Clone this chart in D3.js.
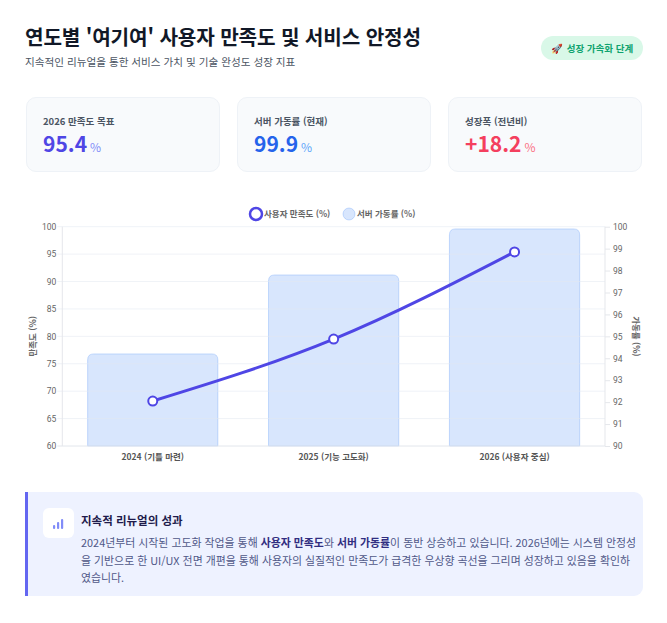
<!DOCTYPE html>
<html lang="ko">
<head>
<meta charset="utf-8">
<script src="https://cdn.jsdelivr.net/npm/d3@7"></script>
<style>
  * { box-sizing: border-box; margin: 0; padding: 0; }
  body { width: 667px; height: 623px; background: #fff; font-family: "Noto Sans CJK KR", "Noto Sans", sans-serif; position: relative; overflow: hidden; }
  .title { position: absolute; left: 25px; top: 22px; font-size: 20.2px; font-weight: 700; color: #111827; letter-spacing: -0.15px; }
  .subtitle { position: absolute; left: 25px; top: 54px; font-size: 10.6px; color: #4b5563; }
  .badge { position: absolute; left: 541px; top: 36px; width: 102px; height: 24px; border-radius: 12px; background: #d9f8e8; color: #10a36f; font-size: 9.5px; font-weight: 600; display: flex; align-items: center; justify-content: center; gap: 4px; }
  .card { position: absolute; top: 97px; width: 194px; height: 75px; background: #f8fafc; border: 1px solid #eef2f7; border-radius: 10px; }
  .card .lab { position: absolute; left: 16px; top: 16px; font-size: 9.5px; font-weight: 600; color: #4b5563; }
  .card .val { position: absolute; left: 16px; top: 30px; font-size: 21px; font-weight: 700; white-space: nowrap; }
  .card .val span { font-size: 12px; font-weight: 400; margin-left: 3px; }
  .note { position: absolute; left: 25px; top: 492px; width: 618px; height: 104px; background: #eef2ff; border-left: 3px solid #6366f1; border-radius: 0 9px 9px 0; }
  .note .icon { position: absolute; left: 15px; top: 16px; width: 31px; height: 30px; background: #fff; border-radius: 6px; }
  .note .head { position: absolute; left: 53px; top: 20px; font-size: 11.5px; font-weight: 700; color: #1e1b4b; }
  .note .body { position: absolute; left: 53px; top: 42px; width: 558px; font-size: 10.9px; line-height: 17.5px; color: #505888; }
  .note .body b { color: #312e81; font-weight: 700; }
  svg.chart { position: absolute; left: 0; top: 195px; }
</style>
</head>
<body>
<div class="title">연도별 '여기여' 사용자 만족도 및 서비스 안정성</div>
<div class="subtitle">지속적인 리뉴얼을 통한 서비스 가치 및 기술 완성도 성장 지표</div>
<div class="badge"><span>🚀</span><span>성장 가속화 단계</span></div>
<div id="cards"></div>
<svg class="chart" width="667" height="285"></svg>
<div class="note">
  <svg class="icon" width="31" height="30"></svg>
  <div class="head">지속적 리뉴얼의 성과</div>
  <div class="body">2024년부터 시작된 고도화 작업을 통해 <b>사용자 만족도</b>와 <b>서버 가동률</b>이 동반 상승하고 있습니다. 2026년에는 시스템 안정성을 기반으로 한 UI/UX 전면 개편을 통해 사용자의 실질적인 만족도가 급격한 우상향 곡선을 그리며 성장하고 있음을 확인하였습니다.</div>
</div>
<script>
// data
const years = ["2024 (기틀 마련)", "2025 (기능 고도화)", "2026 (사용자 중심)"];
const satisfaction = [68.2, 79.5, 95.4];   // 사용자 만족도 (%)
const uptime = [94.2, 97.8, 99.9];         // 서버 가동률 (%)
const leftTicks = [60, 65, 70, 75, 80, 85, 90, 95, 100];
const rightTicks = [90, 91, 92, 93, 94, 95, 96, 97, 98, 99, 100];
const kpiLabels = ["2026 만족도 목표", "서버 가동률 (현재)", "성장폭 (전년비)"];
const kpiValues = ["95.4", "99.9", "+18.2"];

const kpiColors = [["#4f46e5", "#818cf8"], ["#2563eb", "#60a5fa"], ["#f43f5e", "#fb7185"]];
const cardX = [26, 237, 448];

// KPI cards
const cards = d3.select("#cards").selectAll("div.card")
    .data(kpiLabels)
    .join("div")
    .attr("class", "card")
    .style("left", (d, i) => cardX[i] + "px");
cards.append("div").attr("class", "lab").text(d => d);
const vals = cards.append("div").attr("class", "val")
    .style("color", (d, i) => kpiColors[i][0])
    .text((d, i) => kpiValues[i]);
vals.append("span").style("color", (d, i) => kpiColors[i][1]).text("%");

// chart
const svg = d3.select("svg.chart");
const top0 = 195;
const plot = { left: 62.3, right: 605, top: 226.7 - top0, bottom: 446 - top0 };

const x = d3.scaleBand().domain(years).range([plot.left, plot.right]);
const yL = d3.scaleLinear().domain([60, 100]).range([plot.bottom, plot.top]);
const yR = d3.scaleLinear().domain([90, 100]).range([plot.bottom, plot.top]);

const barW = x.bandwidth() * 0.72;
const r = 6;

// bars (rounded top)
svg.append("g").selectAll("path")
    .data(uptime)
    .join("path")
    .attr("d", (d, i) => {
        const x0 = x(years[i]) + (x.bandwidth() - barW) / 2, x1 = x0 + barW;
        const y0 = yR(d), yb = plot.bottom;
        return `M${x0},${yb}V${y0 + r}Q${x0},${y0} ${x0 + r},${y0}H${x1 - r}Q${x1},${y0} ${x1},${y0 + r}V${yb}Z`;
    })
    .attr("fill", "rgba(59,130,246,0.2)")
    .attr("stroke", "rgba(59,130,246,0.25)")
    .attr("stroke-width", 1);

// grid
svg.append("g").selectAll("line")
    .data(leftTicks)
    .join("line")
    .attr("x1", plot.left - 5).attr("x2", plot.right)
    .attr("y1", d => yL(d)).attr("y2", d => yL(d))
    .attr("stroke", d => d === 60 ? "#e2e6ec" : "rgba(226,232,240,0.55)")
    .attr("stroke-width", 1);

// axis lines
svg.append("line").attr("x1", plot.left).attr("x2", plot.left).attr("y1", plot.top).attr("y2", plot.bottom).attr("stroke", "#e5e7eb");
svg.append("line").attr("x1", plot.right).attr("x2", plot.right).attr("y1", plot.top).attr("y2", plot.bottom).attr("stroke", "#e5e7eb");

// left axis
const axL = d3.axisLeft(yL).tickValues(leftTicks).tickSize(0).tickPadding(6);
svg.append("g").attr("transform", `translate(${plot.left},0)`).call(axL)
    .call(g => g.select(".domain").remove())
    .selectAll("text").attr("fill", "#666").style("font-size", "8.5px").style("font-family", "Roboto, 'Noto Sans', sans-serif");

// right axis
const axR = d3.axisRight(yR).tickValues(rightTicks).tickSize(5).tickPadding(3);
svg.append("g").attr("transform", `translate(${plot.right},0)`).call(axR)
    .call(g => g.select(".domain").remove())
    .call(g => g.selectAll("line").attr("stroke", "#e5e7eb"))
    .selectAll("text").attr("fill", "#666").style("font-size", "8.5px").style("font-family", "Roboto, 'Noto Sans', sans-serif");

// x axis
const axX = d3.axisBottom(x).tickSize(0).tickPadding(8);
svg.append("g").attr("transform", `translate(0,${plot.bottom})`).call(axX)
    .call(g => g.select(".domain").remove())
    .selectAll("text").attr("fill", "#555").style("font-size", "8.5px").style("font-weight", "700")
    .style("font-family", "'Noto Sans CJK KR', sans-serif");

// axis titles
svg.append("text").attr("transform", `translate(36,${(plot.top + plot.bottom) / 2}) rotate(-90)`)
    .attr("text-anchor", "middle").attr("fill", "#666").style("font-size", "8.5px").style("font-weight", "700")
    .text("만족도 (%)");
svg.append("text").attr("transform", `translate(633,${(plot.top + plot.bottom) / 2}) rotate(90)`)
    .attr("text-anchor", "middle").attr("fill", "#666").style("font-size", "8.5px").style("font-weight", "700")
    .text("가동률 (%)");

// line
const line = d3.line()
    .x((d, i) => x(years[i]) + x.bandwidth() / 2)
    .y(d => yL(d))
    .curve(d3.curveMonotoneX);
svg.append("path").datum(satisfaction)
    .attr("d", line).attr("fill", "none")
    .attr("stroke", "#4f46e5").attr("stroke-width", 3);
svg.append("g").selectAll("circle")
    .data(satisfaction)
    .join("circle")
    .attr("cx", (d, i) => x(years[i]) + x.bandwidth() / 2)
    .attr("cy", d => yL(d))
    .attr("r", 4.5)
    .attr("fill", "#fff").attr("stroke", "#4f46e5").attr("stroke-width", 2);

// legend
const legend = svg.append("g").attr("transform", "translate(0,19)");
const legItems = [
    { label: "사용자 만족도 (%)", x: 256, fill: "#fff", stroke: "#4f46e5", sw: 2.5 },
    { label: "서버 가동률 (%)", x: 349, fill: "rgba(59,130,246,0.2)", stroke: "rgba(59,130,246,0.25)", sw: 1 }
];
legItems.forEach(it => {
    legend.append("circle").attr("cx", it.x).attr("cy", 0).attr("r", 6)
        .attr("fill", it.fill).attr("stroke", it.stroke).attr("stroke-width", it.sw);
    legend.append("text").attr("x", it.x + 8).attr("y", 3).attr("fill", "#666")
        .style("font-size", "8.5px").style("font-weight", "700").text(it.label);
});

// note icon (small bar chart glyph)
const iconBars = [4, 7, 10];
d3.select("svg.icon").selectAll("rect")
    .data(iconBars)
    .join("rect")
    .attr("x", (d, i) => 10 + i * 4)
    .attr("y", d => 21 - d)
    .attr("width", 2.2)
    .attr("height", d => d)
    .attr("rx", 1)
    .attr("fill", "#818cf8");
</script>
</body>
</html>
